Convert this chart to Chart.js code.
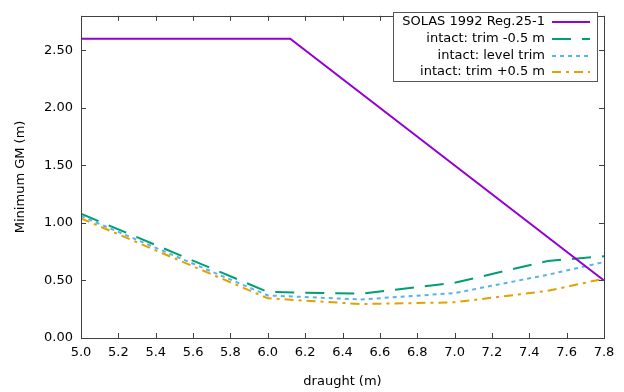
<!DOCTYPE html>
<html>
<head>
<meta charset="utf-8">
<script src="https://cdn.jsdelivr.net/npm/chart.js@4"></script>
<style>
  body { margin: 0; background: #fff; }
</style>
</head>
<body>
<canvas id="grafico_gm" width="624" height="392"></canvas>
<script>
// valores
var solasX = [5.0, 6.12, 7.8];
var solasY = [2.6, 2.6, 0.5];
var calados = [5.0, 6.0, 6.5, 7.0, 7.5, 7.8];
var trimMenos = [1.08, 0.40, 0.385, 0.48, 0.67, 0.71];
var trimNivel = [1.06, 0.37, 0.335, 0.39, 0.55, 0.66];
var trimMais = [1.04, 0.345, 0.295, 0.31, 0.41, 0.515];
var xTicks = [5.0, 5.2, 5.4, 5.6, 5.8, 6.0, 6.2, 6.4, 6.6, 6.8, 7.0, 7.2, 7.4, 7.6, 7.8];
var yTicks = [0, 0.5, 1.0, 1.5, 2.0, 2.5];

function pontos(xs, ys) {
    var lista = [];
    for (var i = 0; i < xs.length; i++) {
        lista.push({x: xs[i], y: ys[i]});
    }
    return lista;
}

const fonte = { family: "DejaVu Sans", size: 13 };
const corBorda = '#404040';

// moldura, ticks para dentro (espelhados) e legenda estilo gnuplot
const molduraPlugin = {
    id: 'moldura',
    afterDatasetsDraw(chart) {
        const ctx = chart.ctx;
        const a = chart.chartArea;
        const sx = chart.scales.x;
        const sy = chart.scales.y;
        ctx.save();
        ctx.strokeStyle = corBorda;
        ctx.lineWidth = 1;
        ctx.setLineDash([]);
        ctx.beginPath();
        xTicks.forEach(function (v) {
            var px = Math.round(sx.getPixelForValue(v)) + 0.5;
            ctx.moveTo(px, a.bottom); ctx.lineTo(px, a.bottom - 5);
            ctx.moveTo(px, a.top); ctx.lineTo(px, a.top + 5);
        });
        yTicks.forEach(function (v) {
            var py = Math.round(sy.getPixelForValue(v)) + 0.5;
            ctx.moveTo(a.left, py); ctx.lineTo(a.left + 5, py);
            ctx.moveTo(a.right, py); ctx.lineTo(a.right - 5, py);
        });
        ctx.stroke();
        ctx.strokeRect(Math.round(a.left) + 0.5, Math.round(a.top) + 0.5,
            Math.round(a.right - a.left), Math.round(a.bottom - a.top));

        // legenda
        ctx.fillStyle = '#fff';
        ctx.fillRect(393, 12, 204, 69);
        ctx.strokeStyle = '#555';
        ctx.strokeRect(393.5, 12.5, 204, 69);
        ctx.font = '13px "DejaVu Sans"';
        ctx.textAlign = 'right';
        ctx.textBaseline = 'middle';
        var linhaY = [22, 39, 56, 72];
        chart.data.datasets.forEach(function (ds, i) {
            ctx.fillStyle = '#000';
            ctx.fillText(ds.label, 545, linhaY[i]);
            ctx.strokeStyle = ds.borderColor;
            ctx.lineWidth = 2;
            ctx.setLineDash(ds.borderDash || []);
            ctx.beginPath();
            ctx.moveTo(552, linhaY[i]);
            ctx.lineTo(590, linhaY[i]);
            ctx.stroke();
        });
        ctx.restore();
    }
};

const grafico = document.getElementById('grafico_gm').getContext("2d");

new Chart(grafico, {
    type: 'line',
    data: {
        datasets: [{
            label: "SOLAS 1992 Reg.25-1",
            data: pontos(solasX, solasY),
            borderColor: '#9400d3',
            borderWidth: 2,
            pointRadius: 0,
            tension: 0
        }, {
            label: "intact: trim -0.5 m",
            data: pontos(calados, trimMenos),
            borderColor: '#009e73',
            borderWidth: 2,
            borderDash: [19, 11],
            pointRadius: 0,
            tension: 0
        }, {
            label: "intact: level trim",
            data: pontos(calados, trimNivel),
            borderColor: '#56b4e9',
            borderWidth: 2,
            borderDash: [4, 4],
            pointRadius: 0,
            tension: 0
        }, {
            label: "intact: trim +0.5 m",
            data: pontos(calados, trimMais),
            borderColor: '#e69f00',
            borderWidth: 2,
            borderDash: [9, 5, 3, 5],
            pointRadius: 0,
            tension: 0
        }]
    },
    options: {
        responsive: false,
        animation: false,
        layout: { padding: { top: 8, right: 20, left: 0, bottom: 0 } },
        plugins: {
            legend: { display: false },
            tooltip: { enabled: false }
        },
        scales: {
            x: {
                type: 'linear',
                min: 5.0,
                max: 7.8,
                afterBuildTicks: function (scale) {
                    scale.ticks = xTicks.map(function (v) { return {value: v}; });
                },
                afterFit: function (scale) { scale.height = 54; },
                grid: { display: false, drawTicks: false },
                border: { display: false },
                ticks: {
                    color: '#000',
                    padding: 7,
                    maxRotation: 0,
                    autoSkip: false,
                    font: fonte,
                    callback: function (v) { return Number(v).toFixed(1); }
                },
                title: {
                    display: true,
                    text: 'draught (m)',
                    color: '#000',
                    font: fonte,
                    padding: { top: 0, bottom: 3 }
                }
            },
            y: {
                type: 'linear',
                min: 0,
                max: 2.8,
                afterBuildTicks: function (scale) {
                    scale.ticks = yTicks.map(function (v) { return {value: v}; });
                },
                afterFit: function (scale) { scale.width = 81; },
                grid: { display: false, drawTicks: false },
                border: { display: false },
                ticks: {
                    color: '#000',
                    padding: 8,
                    font: fonte,
                    callback: function (v) { return Number(v).toFixed(2); }
                },
                title: {
                    display: true,
                    text: 'Minimum GM (m)',
                    color: '#000',
                    font: fonte,
                    padding: { top: 13, bottom: 0 }
                }
            }
        }
    },
    plugins: [molduraPlugin]
});
</script>
</body>
</html>
